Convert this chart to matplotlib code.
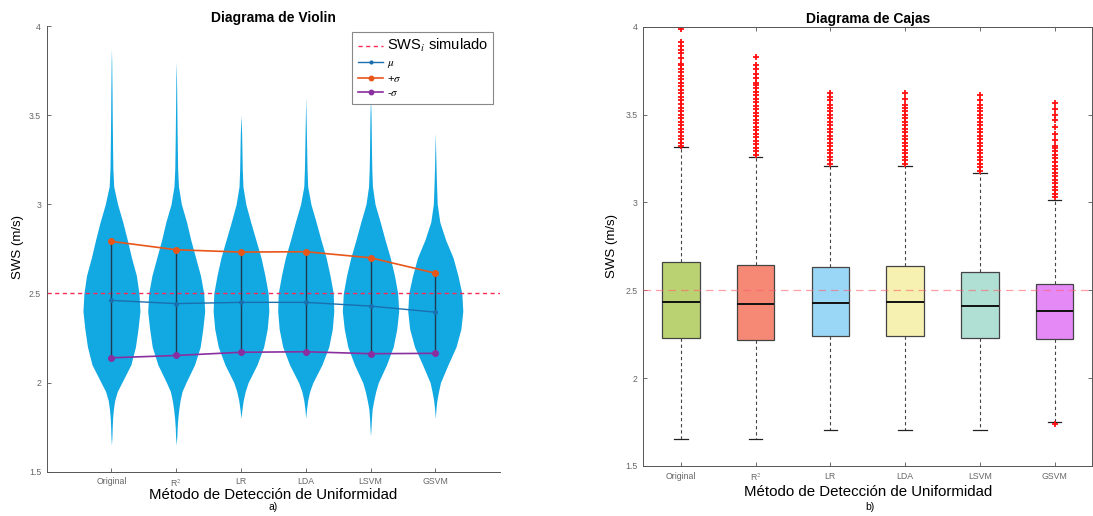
import numpy as np
import matplotlib
matplotlib.use('Agg')
from matplotlib import pyplot as plt
from matplotlib.colors import to_rgba

plt.rcParams['font.family'] = ['Liberation Sans', 'DejaVu Sans']
plt.rcParams['mathtext.fontset'] = 'stix'

metodos = ['Original', 'R$^2$', 'LR', 'LDA', 'LSVM', 'GSVM']
sws_simulado = 2.5

# media y +/- desviacion estandar por metodo
mu = [2.461, 2.443, 2.450, 2.450, 2.429, 2.395]
mas_sigma = [2.792, 2.745, 2.732, 2.734, 2.700, 2.614]
menos_sigma = [2.139, 2.152, 2.170, 2.173, 2.162, 2.164]

# perfil de densidad de cada violin (semi-ancho en unidades del eje x)
niveles = [1.65, 1.70, 1.75, 1.80, 1.85, 1.90, 1.95, 2.00, 2.10, 2.20, 2.30, 2.40, 2.50,
           2.60, 2.70, 2.80, 2.90, 3.00, 3.10, 3.20, 3.30, 3.40, 3.50, 3.60, 3.70, 3.80, 3.87]
ancho_original = [0.0, 0.008, 0.012, 0.018, 0.03, 0.05, 0.09, 0.16, 0.30, 0.37, 0.41, 0.44, 0.425,
                  0.385, 0.31, 0.245, 0.175, 0.095, 0.035, 0.022, 0.018, 0.015, 0.012, 0.01, 0.007, 0.004, 0.0]
ancho_r2 = [0.0, 0.01, 0.015, 0.025, 0.04, 0.06, 0.09, 0.15, 0.283, 0.37, 0.41, 0.44, 0.425,
            0.375, 0.30, 0.225, 0.16, 0.08, 0.035, 0.022, 0.018, 0.014, 0.011, 0.008, 0.005, 0.0, 0.0]
ancho_lr = [0.0, 0.0, 0.0, 0.0, 0.015, 0.035, 0.065, 0.11, 0.247, 0.35, 0.405, 0.43, 0.42,
            0.37, 0.31, 0.23, 0.15, 0.075, 0.03, 0.02, 0.015, 0.01, 0.0, 0.0, 0.0, 0.0, 0.0]
ancho_lda = [0.0, 0.0, 0.0, 0.0, 0.012, 0.03, 0.06, 0.11, 0.25, 0.355, 0.41, 0.433, 0.425,
             0.375, 0.315, 0.235, 0.16, 0.08, 0.03, 0.02, 0.015, 0.01, 0.005, 0.0, 0.0, 0.0, 0.0]
ancho_lsvm = [0.0, 0.0, 0.008, 0.015, 0.025, 0.05, 0.08, 0.12, 0.247, 0.35, 0.405, 0.435, 0.42,
              0.37, 0.305, 0.225, 0.15, 0.07, 0.03, 0.02, 0.015, 0.012, 0.008, 0.0, 0.0, 0.0, 0.0]
ancho_gsvm = [0.0, 0.0, 0.0, 0.0, 0.01, 0.025, 0.05, 0.08, 0.196, 0.32, 0.395, 0.425, 0.41,
              0.35, 0.275, 0.16, 0.07, 0.03, 0.02, 0.012, 0.006, 0.0, 0.0, 0.0, 0.0, 0.0, 0.0]
anchos = [ancho_original, ancho_r2, ancho_lr, ancho_lda, ancho_lsvm, ancho_gsvm]

# estadisticos del diagrama de cajas
mediana = [2.432, 2.421, 2.430, 2.432, 2.411, 2.381]
q1 = [2.227, 2.218, 2.242, 2.242, 2.227, 2.221]
q3 = [2.663, 2.641, 2.632, 2.636, 2.605, 2.538]
bigote_inf = [1.655, 1.655, 1.705, 1.705, 1.705, 1.751]
bigote_sup = [3.315, 3.261, 3.210, 3.210, 3.167, 3.015]
atipicos_original = [3.32, 3.34, 3.36, 3.38, 3.40, 3.42, 3.44, 3.46, 3.48, 3.50, 3.52, 3.54, 3.56,
                     3.58, 3.60, 3.62, 3.64, 3.66, 3.68, 3.70, 3.72, 3.74, 3.76, 3.78,
                     3.79, 3.82, 3.85, 3.87, 3.89, 3.91, 3.985]
atipicos_r2 = [3.27, 3.29, 3.31, 3.33, 3.35, 3.37, 3.39, 3.41, 3.43, 3.45, 3.47, 3.49, 3.51,
               3.53, 3.55, 3.57, 3.59, 3.61, 3.63, 3.65, 3.67, 3.68, 3.71, 3.73, 3.76, 3.78, 3.83]
atipicos_lr = [3.22, 3.24, 3.26, 3.28, 3.30, 3.32, 3.34, 3.36, 3.38, 3.40, 3.42, 3.44, 3.46,
               3.48, 3.50, 3.52, 3.54, 3.555, 3.58, 3.60, 3.62]
atipicos_lda = [3.22, 3.24, 3.26, 3.28, 3.30, 3.32, 3.34, 3.36, 3.38, 3.40, 3.42, 3.44, 3.46,
                3.48, 3.50, 3.52, 3.54, 3.555, 3.59, 3.62]
atipicos_lsvm = [3.18, 3.20, 3.22, 3.24, 3.26, 3.28, 3.30, 3.32, 3.34, 3.36, 3.38, 3.40, 3.42,
                 3.44, 3.46, 3.48, 3.50, 3.52, 3.54, 3.555, 3.58, 3.61]
atipicos_gsvm = [1.74, 3.03, 3.05, 3.07, 3.09, 3.11, 3.13, 3.15, 3.17, 3.19, 3.21, 3.23, 3.25,
                 3.27, 3.29, 3.31, 3.32, 3.355, 3.39, 3.43, 3.47, 3.50, 3.53, 3.565]
atipicos = [atipicos_original, atipicos_r2, atipicos_lr, atipicos_lda, atipicos_lsvm, atipicos_gsvm]
colores_caja = ['#b4cd64', '#f47c66', '#8fd3f5', '#f6f0a8', '#a8dccf', '#e27cf4']

pos = np.arange(1, len(metodos) + 1)
gris = '#444444'

fig = plt.figure(figsize=(10.93, 5.16), dpi=100)
ax1 = fig.add_axes([0.0427, 0.0858, 0.4148, 0.8638])
ax2 = fig.add_axes([0.5887, 0.0969, 0.4104, 0.8514])

# ---- a) violines ----
for x, w in zip(pos, anchos):
    w = np.array(w)
    ax1.fill_betweenx(niveles, x - w, x + w, color='#12a8e2', lw=0, zorder=1)

ax1.axhline(sws_simulado, color='#ff2a5a', ls=(0, (3, 2.5)), lw=1, zorder=2,
            label='SWS$_i$ simulado')
ax1.vlines(pos, menos_sigma, mas_sigma, color='#1d3c52', lw=1, zorder=3)
ax1.plot(pos, mu, color='#1a6fae', lw=1, marker='.', ms=5, zorder=4, label=r'$\mu$')
ax1.plot(pos, mas_sigma, color='#e8561a', lw=1.2, marker='o', ms=4, zorder=4, label=r'+$\sigma$')
ax1.plot(pos, menos_sigma, color='#8a2fa0', lw=1.2, marker='o', ms=4, zorder=4, label=r'-$\sigma$')

ax1.set_xlim(0, 7)
ax1.set_ylim(1.5, 4)
ax1.spines['top'].set_visible(False)
ax1.spines['right'].set_visible(False)

leg = ax1.legend(loc='upper right', bbox_to_anchor=(0.985, 0.987), borderaxespad=0,
                 fontsize=8, fancybox=False, edgecolor='#888888', framealpha=1,
                 handlelength=2.3, labelspacing=0.35, borderpad=0.5, handletextpad=0.3,
                 markerscale=0.8)
leg.get_frame().set_linewidth(0.8)
leg.get_texts()[0].set_fontsize(10.5)
ax1.set_title('Diagrama de Violin', fontsize=10, fontweight='bold', pad=3)
ax1.set_xlabel('Método de Detección de Uniformidad', fontsize=10.8)
ax1.xaxis.set_label_coords(0.5, -0.037)
ax1.set_ylabel('SWS (m/s)', fontsize=9.5)
ax1.yaxis.set_label_coords(-0.05, 0.504)
fig.text(0.2497, 0.012, 'a)', fontsize=7.5, ha='center')

# ---- b) cajas ----
ax2.axhline(sws_simulado, color='#ff6070', ls=(0, (6, 4)), lw=0.9, alpha=0.6, zorder=5)
stats = []
for k in range(len(metodos)):
    stats.append({'med': mediana[k], 'q1': q1[k], 'q3': q3[k],
                  'whislo': bigote_inf[k], 'whishi': bigote_sup[k],
                  'fliers': atipicos[k]})
bp = ax2.bxp(stats, positions=pos, widths=0.5, patch_artist=True, capwidths=0.18,
             boxprops=dict(edgecolor=gris, lw=0.9),
             medianprops=dict(color='#111111', lw=1.4),
             whiskerprops=dict(color=gris, lw=0.8, ls=(0, (3, 2.5))),
             capprops=dict(color='#222222', lw=0.9),
             flierprops=dict(marker='+', markeredgecolor='#ff1010', markersize=5,
                             markeredgewidth=1.3, linestyle='none'))
for caja, c in zip(bp['boxes'], colores_caja):
    caja.set_facecolor(to_rgba(c, 0.9))

ax2.set_xlim(0.5, 6.5)
ax2.set_ylim(1.5, 4)
ax2.tick_params(top=True, right=True)
ax2.set_title('Diagrama de Cajas', fontsize=10, fontweight='bold', pad=3)
ax2.set_xlabel('Método de Detección de Uniformidad', fontsize=10.8)
ax2.xaxis.set_label_coords(0.5, -0.043)
ax2.set_ylabel('SWS (m/s)', fontsize=9.5)
ax2.yaxis.set_label_coords(-0.057, 0.50)
fig.text(0.7958, 0.012, 'b)', fontsize=7.5, ha='center')

for ax in (ax1, ax2):
    ax.set_xticks(pos)
    ax.set_xticklabels(metodos)
    ax.set_yticks([1.5, 2, 2.5, 3, 3.5, 4])
    ax.set_yticklabels(['1.5', '2', '2.5', '3', '3.5', '4'])
    ax.tick_params(direction='in', length=3, width=0.6, labelsize=6.3,
                   labelcolor='#666666', color='#555555', pad=4)
    for s in ax.spines.values():
        s.set_color('#555555')
        s.set_linewidth(0.7)

fig.savefig('out.png', dpi=100)
